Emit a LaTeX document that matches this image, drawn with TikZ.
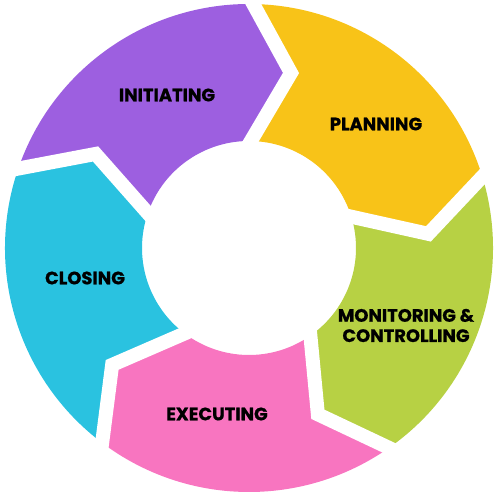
\documentclass[tikz,border=0pt]{standalone}
\usepackage{fontspec}
\newfontfamily\labfont{Poppins}[BoldFeatures={FakeBold=0.8}]
\usetikzlibrary{calc}
\definecolor{cPurple}{RGB}{157,95,224}
\definecolor{cYellow}{RGB}{248,195,24}
\definecolor{cGreen}{RGB}{183,209,68}
\definecolor{cPink}{RGB}{248,117,192}
\definecolor{cCyan}{RGB}{42,194,224}
\begin{document}
\begin{tikzpicture}[x=0.02cm,y=0.02cm,
  lab/.style={font=\labfont\bfseries\fontsize{10.2}{11.5}\selectfont, align=center, text=black, inner sep=0pt},
  gapline/.style={draw=white, line width=0.28cm, line join=miter}]
\useasboundingbox (0,0) rectangle (500,500);
\coordinate (ctr) at (249,252);
\foreach \b/\n in {89/a,17/b,-55/c,-127/d,161/e}{
  \coordinate (O\n) at ($(ctr)+(\b:244)$);
  \coordinate (I\n) at ($(ctr)+(\b:107)$);
  \coordinate (T\n) at ($(ctr)+(\b-12.5:180)$);
}
% segments
\fill[cPurple] (Oe) arc[start angle=161, end angle=89, radius=244] -- (Ta) -- (Ia)
  arc[start angle=89, end angle=161, radius=107] -- (Te) -- cycle;
\fill[cYellow] (Oa) arc[start angle=89, end angle=17, radius=244] -- (Tb) -- (Ib)
  arc[start angle=17, end angle=89, radius=107] -- (Ta) -- cycle;
\fill[cGreen] (Ob) arc[start angle=17, end angle=-55, radius=244] -- (Tc) -- (Ic)
  arc[start angle=-55, end angle=17, radius=107] -- (Tb) -- cycle;
\fill[cPink] (Oc) arc[start angle=-55, end angle=-127, radius=244] -- (Td) -- (Id)
  arc[start angle=-127, end angle=-55, radius=107] -- (Tc) -- cycle;
\fill[cCyan] (Od) arc[start angle=-127, end angle=-199, radius=244] -- (Te) -- (Ie)
  arc[start angle=-199, end angle=-127, radius=107] -- (Td) -- cycle;
% gaps
\foreach \n in {a,b,c,d,e}{
  \draw[gapline] ($(T\n)!1.2!(O\n)$) -- (T\n) -- ($(T\n)!1.25!(I\n)$);
}
% labels
\node[lab] (l1) at (167,405) {INITIATING};
\node[lab] (l2) at (376,376) {PLANNING};
\node[lab] (l3) at (406,174.5) {MONITORING \&\\CONTROLLING};
\node[lab] (l4) at (217,86) {EXECUTING};
\node[lab] (l5) at (85,222) {CLOSING};
\end{tikzpicture}
\end{document}
